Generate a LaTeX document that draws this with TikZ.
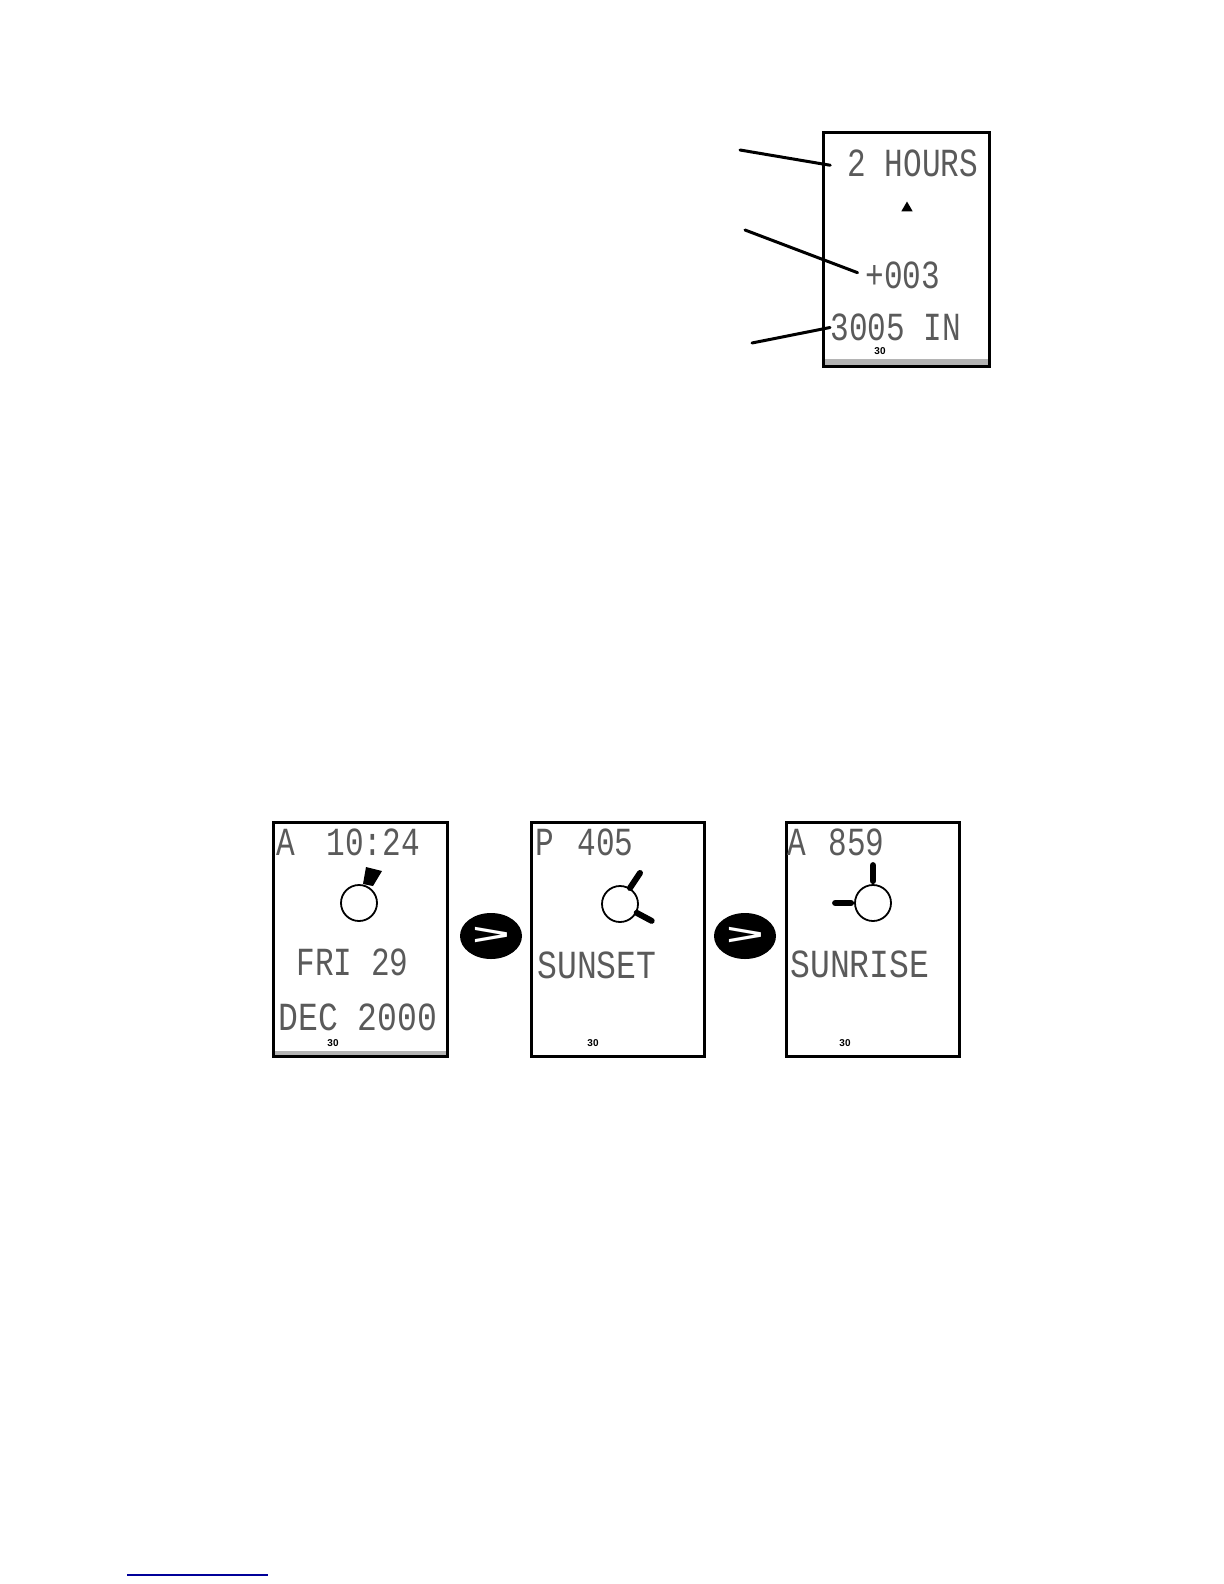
\documentclass[tikz,border=0pt]{standalone}
\usepackage{fontspec}
\usepackage{graphicx}
\usepackage{xcolor}
\usetikzlibrary{shapes.geometric}
\newfontfamily\lcdfont[FakeStretch=0.78]{Liberation Mono}
\newfontfamily\lcdwide[FakeStretch=0.83]{Liberation Mono}
\newfontfamily\btnfont{Liberation Sans}
\definecolor{lcd-gray}{HTML}{5A5A5A}
\definecolor{band-gray}{HTML}{B4B4B4}
\definecolor{link-blue}{HTML}{000099}

\begin{document}
\begin{tikzpicture}[x=0.5bp, y=-0.5bp,
      screen/.style={draw=black, line width=1.5bp, fill=none, inner sep=0pt},
      lcdtext/.style={font=\lcdfont\fontsize{20}{20}\selectfont, text=lcd-gray, anchor=west,
          inner sep=0pt, text height=13bp, text depth=0pt},
      lcdstretch/.style={lcdtext, font=\lcdwide\fontsize{20}{20}\selectfont},
      tinylabel/.style={font=\btnfont\bfseries\fontsize{5}{5}\selectfont, inner sep=0pt},
      calloutline/.style={line width=1.5bp, line cap=round},
      sunring/.style={draw=black, circle, line width=0.9bp, minimum size=18bp, inner sep=0pt},
      sunray/.style={line width=3bp, line cap=round},
      nextbtn/.style={ellipse, fill=black, text=white, minimum width=31bp, minimum height=23bp,
          inner sep=0pt, font=\btnfont\bfseries\fontsize{16}{16}\selectfont}]
    \useasboundingbox (0,0) rectangle (1224,1584);

    % top screen
    \fill[band-gray] (825,359) rectangle (989,365);
    \node[screen, minimum width=82.75bp, minimum height=117bp] (baroscreen) at (906.5,249) {};
    \node[lcdtext] (hours) at (847,163.5) {2 HOURS};
    \node[draw=none, fill=black, regular polygon, regular polygon sides=3, inner sep=0pt,
          minimum size=6.5bp] (trendmark) at (907,208) {};
    \node[lcdtext] (delta) at (865,275.5) {+003};
    \node[lcdtext] (baro) at (830,327.5) {3005 IN};
    \node[tinylabel] (barotemp) at (880,351) {30};
    \coordinate (hoursfrom) at (740,150);
    \coordinate (deltafrom) at (745,230);
    \coordinate (barofrom) at (752,343);
    \draw[calloutline, shorten >=8.5bp] (hoursfrom) -- (hours.184);
    \draw[calloutline, shorten >=4bp] (deltafrom) -- (delta.west);
    \draw[calloutline] (barofrom) -- (baro.west);

    % sun screens
    \fill[band-gray] (275,1051) rectangle (447,1056);
    \node[screen, minimum width=87.25bp, minimum height=117.25bp] (datescreen) at (360.5,939.5) {};
    \node[screen, minimum width=86.75bp, minimum height=117.25bp] (sunsetscreen) at (618,939.5) {};
    \node[screen, minimum width=86.75bp, minimum height=117.25bp] (sunrisescreen) at (873,939.5) {};

    \node[lcdtext] (ampma) at (276,842.5) {A};
    \node[lcdtext] (clocka) at (326,842.5) {10:24};
    \node[sunring] (sunnow) at (359,903) {};
    \fill[black] (363,884) -- (366,867) -- (382,871) -- (373,886) -- cycle;
    \node[lcdtext] (dayline) at (296,962.5) {FRI 29};
    \node[lcdstretch] (dateline) at (278,1017.5) {DEC 2000};
    \node[tinylabel] (tempa) at (333,1043) {30};

    \node[lcdtext] (ampmb) at (535,842.5) {P};
    \node[lcdtext] (clockb) at (577,842.5) {405};
    \node[sunring] (sunset) at (620,904) {};
    \draw[sunray] (sunset.58) -- ++(10,-15);
    \draw[sunray] (sunset.-28) -- ++(15,8);
    \node[lcdstretch] (sunsetlabel) at (537,965.5) {SUNSET};
    \node[tinylabel] (tempb) at (593,1043) {30};

    \node[lcdtext] (ampmc) at (787,842.5) {A};
    \node[lcdtext] (clockc) at (828,842.5) {859};
    \node[sunring] (sunrise) at (873,903) {};
    \draw[sunray] (sunrise.north) ++(0,-3) -- ++(0,-16);
    \draw[sunray] (sunrise.west) ++(-3,0) -- ++(-16,0);
    \node[lcdstretch] (sunriselabel) at (790,964.5) {SUNRISE};
    \node[tinylabel] (tempc) at (845,1043) {30};

    \node[nextbtn] (nexta) at (491,936) {\scalebox{2}[0.9]{>}};
    \node[nextbtn] (nextb) at (745,936) {\scalebox{2}[0.9]{>}};

    % link underline at the foot of the page
    \coordinate (linkstart) at (127,1575);
    \coordinate (linkend) at (268,1575);
    \draw[link-blue, line width=0.6bp] (linkstart) -- (linkend);
\end{tikzpicture}
\end{document}
